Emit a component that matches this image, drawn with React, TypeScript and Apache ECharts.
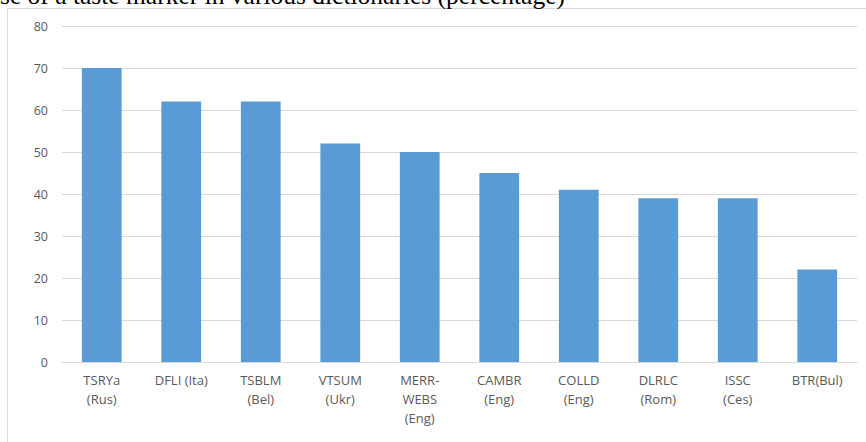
import React, { useEffect, useRef } from "react";
import * as echarts from "echarts";

const categories = [
  "TSRYa\n(Rus)",
  "DFLI (Ita)",
  "TSBLM\n(Bel)",
  "VTSUM\n(Ukr)",
  "MERR-\nWEBS\n(Eng)",
  "CAMBR\n(Eng)",
  "COLLD\n(Eng)",
  "DLRLC\n(Rom)",
  "ISSC\n(Ces)",
  "BTR(Bul)",
];
const values = [70, 62, 62, 52, 50, 45, 41, 39, 39, 22];
const titleText = "se of a taste marker in various dictionaries (percentage)";

export default function App() {
  const ref = useRef<HTMLDivElement>(null);
  useEffect(() => {
    document.body.style.margin = "0";
    const chart = echarts.init(ref.current!, null, { renderer: "svg" });
    chart.setOption({
      animation: false,
      backgroundColor: "#ffffff",
      grid: { left: 62, right: 9, top: 26, bottom: 80, containLabel: false },
      xAxis: {
        type: "category",
        data: categories,
        axisLine: { show: true, lineStyle: { color: "#D9D9D9", width: 1 } },
        axisTick: { show: false },
        axisLabel: {
          interval: 0,
          color: "#595959",
          fontFamily: "Open Sans",
          fontSize: 13,
          lineHeight: 19,
          margin: 8,
        },
      },
      yAxis: {
        type: "value",
        min: 0,
        max: 80,
        interval: 10,
        axisLine: { show: false },
        axisTick: { show: false },
        splitLine: { lineStyle: { color: "#D9D9D9", width: 1 } },
        axisLabel: {
          color: "#595959",
          fontFamily: "Open Sans",
          fontSize: 12.5,
          margin: 14,
        },
      },
      series: [
        {
          type: "bar",
          data: values,
          barWidth: "50%",
          itemStyle: { color: "#5B9BD5" },
        },
      ],
      graphic: [
        {
          type: "rect",
          shape: { x: 7.5, y: 8.5, width: 880, height: 460 },
          style: { fill: "none", stroke: "#D9D9D9", lineWidth: 1 },
          z: -1,
        },
        {
          type: "text",
          x: 0,
          y: -5,
          style: {
            text: titleText,
            fontFamily: "Liberation Serif",
            fontSize: 25.5,
            fill: "#000000",
            verticalAlign: "middle",
            align: "left",
          },
        },
      ],
    });
    return () => chart.dispose();
  }, []);
  return (
    <div
      ref={ref}
      style={{ position: "absolute", left: 0, top: 0, width: 866, height: 442 }}
    />
  );
}
